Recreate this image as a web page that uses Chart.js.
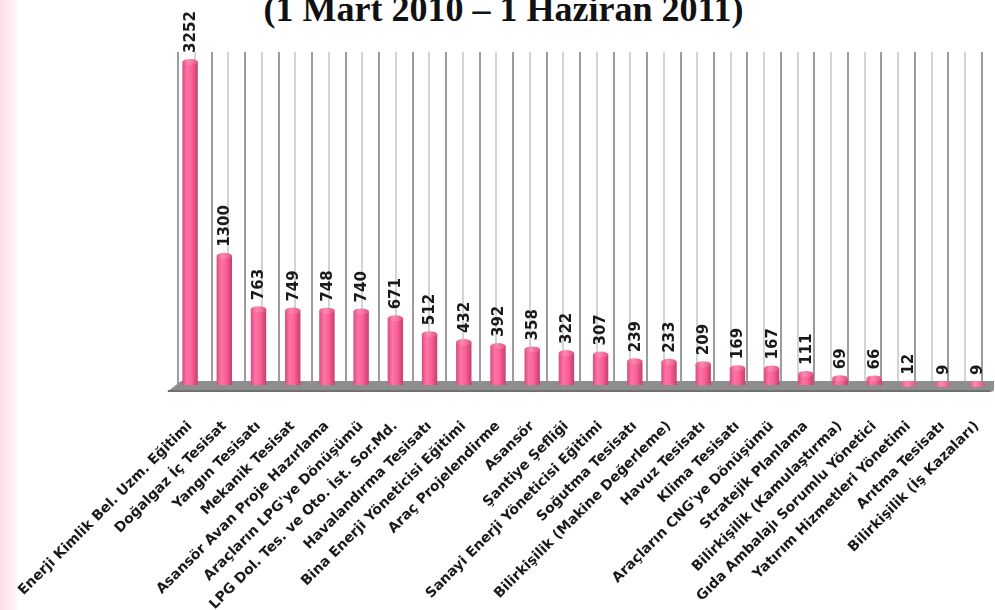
<!DOCTYPE html>
<html>
<head>
<meta charset="utf-8">
<script src="https://cdn.jsdelivr.net/npm/chart.js"></script>
<style>
  html, body { margin: 0; padding: 0; }
  body {
    width: 995px; height: 610px; overflow: hidden; position: relative;
    background: linear-gradient(to right, #fbdde6 0px, #fdebf0 10px, #ffffff 20px);
  }
  #title {
    position: absolute; left: 6px; top: -9px; width: 995px; text-align: center;
    font: bold 36px "Liberation Serif", serif; line-height: 36px; color: #111;
  }
  #wrap { position: absolute; left: 0; top: 0; width: 995px; height: 610px; }
</style>
</head>
<body>
<div id="title">(1 Mart 2010 – 1 Haziran 2011)</div>
<div id="wrap"><canvas id="chart"></canvas></div>
<script>
// kurs adları
var kursAdlari = [
  'Enerji Kimlik Bel. Uzm. Eğitimi', 'Doğalgaz İç Tesisat', 'Yangın Tesisatı',
  'Mekanik Tesisat', 'Asansör Avan Proje Hazırlama', "Araçların LPG'ye Dönüşümü",
  'LPG Dol. Tes. ve Oto. İst. Sor.Md.', 'Havalandırma Tesisatı', 'Bina Enerji Yöneticisi Eğitimi',
  'Araç Projelendirme', 'Asansör', 'Şantiye Şefliği',
  'Sanayi Enerji Yöneticisi Eğitimi', 'Soğutma Tesisatı', 'Bilirkişilik (Makine Değerleme)',
  'Havuz Tesisatı', 'Klima Tesisatı', "Araçların CNG'ye Dönüşümü",
  'Stratejik Planlama', 'Bilirkişilik (Kamulaştırma)', 'Gıda Ambalajı Sorumlu Yönetici',
  'Yatırım Hizmetleri Yönetimi', 'Arıtma Tesisatı', 'Bilirkişilik (İş Kazaları)'
];
// katılımcı sayıları
var katilimci = [3252, 1300, 763, 749, 748, 740, 671, 512, 432, 392, 358, 322,
                 307, 239, 233, 209, 169, 167, 111, 69, 66, 12, 9, 9];

var yMax = 3352;
var barOran = 0.45;
var kayma = 0.146; // arka duvarın sağa kayması (kategori birimi)

// pembe silindir dolgusu
function barRengi(c) {
  var sx = c.chart.scales.x;
  if (c.dataIndex === undefined || !sx || !sx.width) return '#f4679a';
  var cx = sx.getPixelForValue(c.dataIndex);
  var w = sx.width / kursAdlari.length * barOran;
  var g = c.chart.ctx.createLinearGradient(cx - w / 2, 0, cx + w / 2, 0);
  g.addColorStop(0, '#d94a7c');
  g.addColorStop(0.3, '#ff74a6');
  g.addColorStop(0.6, '#fb6196');
  g.addColorStop(1, '#c73d6e');
  return g;
}

// zemin (gri taban)
var zemin = {
  id: 'zemin',
  beforeDatasetsDraw: function(chart) {
    var a = chart.chartArea, ctx = chart.ctx;
    ctx.save();
    ctx.beginPath();
    ctx.moveTo(a.left + 8, a.bottom - 4);
    ctx.lineTo(a.right, a.bottom - 4);
    ctx.lineTo(a.right, a.bottom + 4);
    ctx.quadraticCurveTo(a.right, a.bottom + 7, a.right - 4, a.bottom + 7);
    ctx.lineTo(a.left - 6, a.bottom + 7);
    ctx.closePath();
    ctx.fillStyle = '#8e8e8e';
    ctx.fill();
    ctx.fillStyle = '#6f6f6f';
    ctx.fillRect(a.left - 5, a.bottom + 5, a.right - a.left + 1, 2);
    ctx.restore();
  }
};

// silindir kapağı ve değer etiketleri
var etiketler = {
  id: 'etiketler',
  afterDatasetsDraw: function(chart) {
    var ctx = chart.ctx;
    var meta = chart.getDatasetMeta(0);
    meta.data.forEach(function(bar, i) {
      var w = bar.width;
      ctx.save();
      ctx.beginPath();
      ctx.ellipse(bar.x, bar.y, w / 2, 3, 0, 0, Math.PI * 2);
      var g = ctx.createLinearGradient(bar.x - w / 2, 0, bar.x + w / 2, 0);
      g.addColorStop(0, '#e8588a');
      g.addColorStop(0.4, '#ff8ab4');
      g.addColorStop(1, '#e0527f');
      ctx.fillStyle = g;
      ctx.fill();
      ctx.restore();

      ctx.save();
      ctx.translate(bar.x + 1, bar.y - 9);
      ctx.rotate(-Math.PI / 2);
      ctx.font = 'bold 15px "DejaVu Sans"';
      ctx.fillStyle = '#1a1a1a';
      ctx.textAlign = 'left';
      ctx.textBaseline = 'middle';
      ctx.fillText(String(katilimci[i]), 0, 0);
      ctx.restore();
    });
  }
};

var chart = new Chart(document.getElementById('chart'), {
  type: 'bar',
  data: {
    labels: kursAdlari,
    datasets: [{
      data: katilimci,
      backgroundColor: barRengi,
      borderWidth: 0,
      barPercentage: barOran,
      categoryPercentage: 1
    }]
  },
  options: {
    responsive: true,
    maintainAspectRatio: false,
    animation: false,
    layout: { padding: { left: 173, right: 1, top: 52, bottom: 0 } },
    plugins: {
      legend: { display: false },
      tooltip: { enabled: false }
    },
    scales: {
      x: {
        grid: { display: false },
        border: { display: false },
        ticks: {
          autoSkip: false,
          minRotation: 45,
          maxRotation: 45,
          padding: 25,
          color: '#1a1a1a',
          font: { family: 'DejaVu Sans', weight: 'bold', size: 14 }
        },
        afterFit: function(s) {
          s.height = 225;
          s.paddingLeft = 0;
          s.paddingRight = 0;
        }
      },
      // arka duvar çizgileri
      x2: {
        type: 'linear',
        position: 'top',
        min: -0.5 - kayma,
        max: kursAdlari.length - 0.5 - kayma,
        border: { display: false },
        ticks: { display: false },
        grid: {
          drawTicks: false,
          lineWidth: 2,
          color: function(c) {
            if (!c.tick) return '#9c9c9c';
            return Number.isInteger(c.tick.value) ? '#d4d4d4' : '#9c9c9c';
          }
        },
        afterBuildTicks: function(s) {
          var t = [];
          for (var k = 0; k < kursAdlari.length * 2; k++) {
            t.push({ value: k / 2 - 0.5 });
          }
          s.ticks = t;
        },
        afterFit: function(s) { s.height = 0; }
      },
      y: {
        display: false,
        min: 0,
        max: yMax
      }
    }
  },
  plugins: [zemin, etiketler]
});
chart.update();
</script>
</body>
</html>
